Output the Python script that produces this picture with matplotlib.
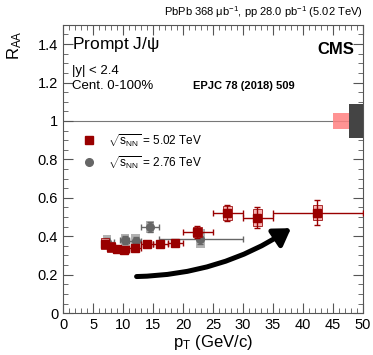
import matplotlib.pyplot as plt
import numpy as np
from matplotlib.ticker import MultipleLocator, FormatStrFormatter

plt.rcParams['font.family'] = ['Liberation Sans', 'DejaVu Sans']
plt.rcParams['mathtext.fontset'] = 'custom'
plt.rcParams['mathtext.rm'] = 'Liberation Sans'
plt.rcParams['mathtext.it'] = 'Liberation Sans'

# 5.02 TeV prompt J/psi RAA
pt502 = [7.0, 8.0, 9.0, 10.2, 12.0, 14.0, 16.2, 18.7, 22.4, 27.4, 32.4, 42.4]
xlo502 = [0.5, 0.5, 0.5, 0.7, 1.0, 1.0, 1.2, 1.2, 2.4, 2.4, 2.4, 7.4]
xhi502 = [0.5, 0.5, 0.5, 0.8, 1.0, 1.0, 1.3, 1.3, 2.6, 2.6, 2.6, 7.6]
raa502 = [0.362, 0.345, 0.333, 0.331, 0.341, 0.362, 0.362, 0.367, 0.422, 0.521, 0.497, 0.523]
stat502 = [0.012, 0.012, 0.012, 0.012, 0.012, 0.012, 0.012, 0.015, 0.03, 0.04, 0.055, 0.065]
sys502 = [0.03, 0.025, 0.02, 0.02, 0.02, 0.02, 0.015, 0.015, 0.025, 0.035, 0.045, 0.04]

# 2.76 TeV prompt J/psi RAA
pt276 = [7.3, 10.3, 12.1, 14.5, 22.9]
xlo276 = [0.8, 0.8, 1.1, 1.5, 6.9]
xhi276 = [1.2, 0.7, 0.9, 1.5, 7.1]
raa276 = [0.37, 0.38, 0.376, 0.448, 0.388]
stat276 = [0.02, 0.02, 0.02, 0.025, 0.03]
sys276 = [0.035, 0.03, 0.035, 0.033, 0.05]

glob502 = 0.043
glob276 = 0.09

red = '#990000'
gray = '#666666'

fig = plt.figure(figsize=(3.73, 3.55), dpi=100)
ax = fig.add_axes([0.169, 0.118, 0.804, 0.812])

ax.axhline(1.0, color='#777777', lw=0.8, zorder=1)

# global uncertainties
ax.bar(46.3, 2 * glob502, bottom=1 - glob502, width=2.6, color='#ff8080', alpha=0.85,
       edgecolor='none', zorder=2)
ax.bar(48.8, 2 * glob276, bottom=1 - glob276, width=2.4, color='#444444',
       edgecolor='none', zorder=2)

# systematic boxes
ax.bar(pt276, 2 * np.array(sys276), bottom=np.array(raa276) - np.array(sys276), width=1.4,
       color='#aaaaaa', alpha=0.9, edgecolor='none', zorder=3)
ax.errorbar(pt276, raa276, xerr=[xlo276, xhi276], yerr=stat276, fmt='o', color=gray,
            ms=5.5, lw=1, capsize=2, zorder=4)

ax.bar(pt502, 2 * np.array(sys502), bottom=np.array(raa502) - np.array(sys502), width=1.4,
       color='#f4a0a0', alpha=0.8, edgecolor=red, lw=0.7, zorder=5)
ax.errorbar(pt502, raa502, xerr=[xlo502, xhi502], yerr=stat502, fmt='s', color=red,
            ms=5.5, lw=1, capsize=2, zorder=6)

# legend
ax.plot(4.3, 0.9, 's', color=red, ms=5.5)
ax.plot(4.3, 0.785, 'o', color=gray, ms=5.5)
ax.text(7.5, 0.9, r'$\sqrt{s_{\mathrm{NN}}}$ = 5.02 TeV', fontsize=8.5, va='center')
ax.text(7.5, 0.785, r'$\sqrt{s_{\mathrm{NN}}}$ = 2.76 TeV', fontsize=8.5, va='center')

# arrow
ax.annotate('', xy=(38.4, 0.45), xytext=(11.8, 0.19),
            arrowprops=dict(arrowstyle='-|>,head_length=0.55,head_width=0.35',
                            connectionstyle='arc3,rad=0.15',
                            lw=3.6, color='black', mutation_scale=18))

ax.text(1.5, 1.4, r'Prompt J/$\psi$', fontsize=12.5, va='center')
ax.text(1.5, 1.26, '|y| < 2.4', fontsize=9.5, va='center')
ax.text(1.5, 1.18, 'Cent. 0-100%', fontsize=9.5, va='center')
ax.text(48.5, 1.37, 'CMS', fontsize=12, fontweight='bold', ha='right', va='center')
ax.text(21.7, 1.18, 'EPJC 78 (2018) 509', fontsize=8, fontweight='bold', va='center')

fig.text(0.973, 0.965, r'PbPb 368 $\mu$b$^{-1}$, pp 28.0 pb$^{-1}$ (5.02 TeV)',
         fontsize=8, ha='right', va='center')

ax.set_xlim(0, 50)
ax.set_ylim(0, 1.5)
ax.xaxis.set_major_locator(MultipleLocator(5))
ax.xaxis.set_minor_locator(MultipleLocator(1))
ax.yaxis.set_major_locator(MultipleLocator(0.2))
ax.yaxis.set_minor_locator(MultipleLocator(0.05))
ax.yaxis.set_major_formatter(FormatStrFormatter('%g'))
ax.tick_params(which='both', direction='in', top=True, right=True, labelsize=10.5,
               color='#555555')
ax.tick_params(which='major', length=7)
ax.tick_params(which='minor', length=3.5)
for s in ax.spines.values():
    s.set_color('#555555')
    s.set_linewidth(0.8)

ax.set_xlabel(r'p$_{\mathrm{T}}$ (GeV/c)', fontsize=12, labelpad=1)
ax.set_ylabel(r'R$_{\mathrm{AA}}$', fontsize=12)
ax.yaxis.set_label_coords(-0.13, 0.93)

fig.savefig('out.png', dpi=100)
